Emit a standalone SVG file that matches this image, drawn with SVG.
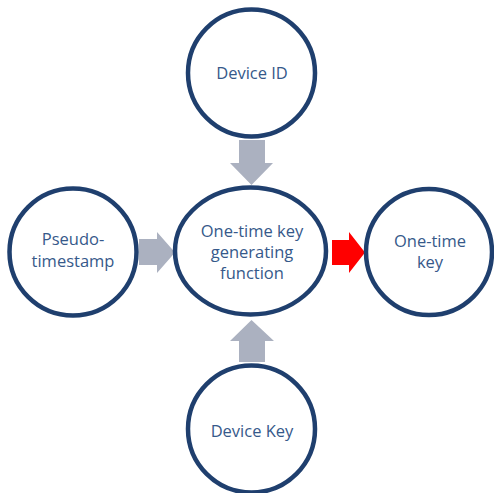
<svg xmlns="http://www.w3.org/2000/svg" width="494" height="493" viewBox="0 0 494 493">
  <style>
    .node { fill: #ffffff; stroke: #1f3f6e; stroke-width: 4.5; }
    .label { font-family: "Open Sans", "Noto Sans", sans-serif; font-size: 16.5px; fill: #36598a; text-anchor: middle; }
    .flow { fill: #abb1c0; }
    .out { fill: #ff0000; }
  </style>
  <rect width="494" height="493" fill="#ffffff"/>

  <g id="connectors">
    <!-- Device ID down into the function -->
    <polygon class="flow" points="239,140 265,140 265,163 273,163 251.5,185 230,163 239,163"/>
    <!-- Device Key up into the function -->
    <polygon class="flow" points="239,362 265,362 265,341 274,341 251.5,320 230,341 239,341"/>
    <!-- Pseudo-timestamp into the function -->
    <polygon class="flow" points="139,239 157,239 157,232 175,252.5 157,273 157,265 139,265"/>
    <!-- Function output to the one-time key -->
    <polygon class="out" points="332,240 349,240 349,232 365,252.5 349,273 349,265 332,265"/>
  </g>

  <g id="device-id">
    <circle class="node" cx="251.5" cy="73" r="63.5"/>
    <text class="label" x="252" y="79">Device ID</text>
  </g>

  <g id="pseudo-timestamp">
    <circle class="node" cx="73" cy="252" r="63.5"/>
    <text class="label" x="73" y="245">Pseudo-</text>
    <text class="label" x="73" y="267">timestamp</text>
  </g>

  <g id="key-function">
    <ellipse class="node" cx="250.5" cy="251" rx="75.5" ry="63.5"/>
    <text class="label" x="252" y="237">One-time key</text>
    <text class="label" x="252" y="258">generating</text>
    <text class="label" x="252" y="279">function</text>
  </g>

  <g id="one-time-key">
    <circle class="node" cx="429" cy="252" r="63"/>
    <text class="label" x="430" y="247">One-time</text>
    <text class="label" x="430" y="268">key</text>
  </g>

  <g id="device-key">
    <circle class="node" cx="251.5" cy="429" r="63.5"/>
    <text class="label" x="252" y="437">Device Key</text>
  </g>
</svg>
